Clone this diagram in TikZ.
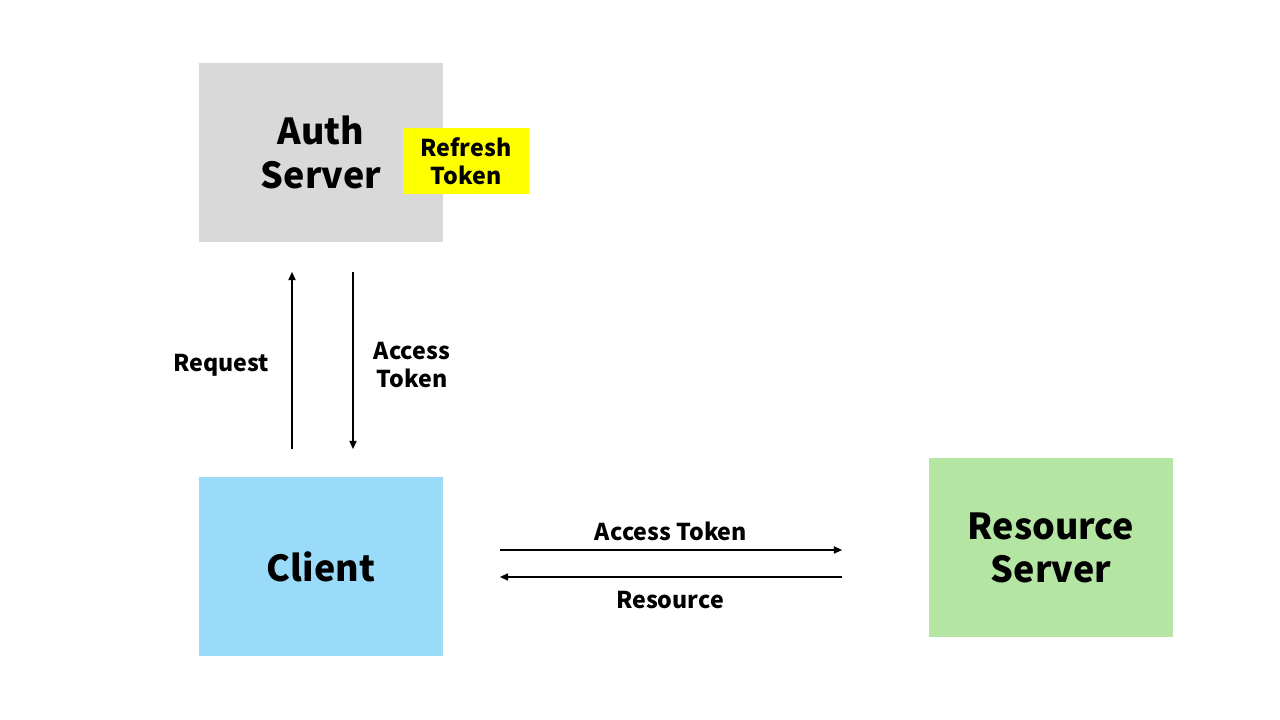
\documentclass[tikz,border=0pt]{standalone}
\usepackage{fontspec}
\setmainfont{Noto Sans CJK KR}
\usetikzlibrary{arrows.meta,positioning,calc}
\definecolor{authfill}{HTML}{D9D9D9}
\definecolor{tokfill}{HTML}{FFFF00}
\definecolor{clientfill}{HTML}{99DBF8}
\definecolor{resfill}{HTML}{B5E5A3}
\definecolor{fg}{HTML}{000000}
\begin{document}
\begin{tikzpicture}[
  font=\bfseries, >={Triangle[length=0.85mm,width=0.7mm]},
  srv/.style={minimum width=24.4mm, minimum height=17.9mm, align=center, text=fg,
    font=\fontsize{10.2}{12.4}\selectfont\bfseries},
  tok/.style={fill=tokfill, minimum width=12.6mm, minimum height=6.6mm, align=center, inner sep=0pt,
    font=\fontsize{6.6}{8}\selectfont\bfseries},
  lbl/.style={align=center, text=fg, font=\fontsize{6.6}{8}\selectfont\bfseries},
  flow/.style={->, line width=0.55pt, draw=fg},
]
\useasboundingbox (0,0) rectangle (12.8,7.2);
% servers and client
\node[srv, fill=authfill] (auth) at (3.21,5.675) {Auth\\Server};
\node[tok] (refresh) at (4.66,5.59) {Refresh\\Token};
\node[srv, fill=clientfill] (client) at (3.21,1.535) {Client};
\node[srv, fill=resfill] (res) at (10.51,1.72) {Resource\\Server};

% --- client <-> auth server ---
\draw[flow, shorten <=2.7mm, shorten >=2.9mm] ([xshift=-2.9mm]client.north) -- ([xshift=-2.9mm]auth.south);
\draw[flow, shorten <=2.9mm, shorten >=2.7mm] ([xshift=3.2mm]auth.south) -- ([xshift=3.2mm]client.north);
\node[lbl] (req) at (2.21,3.55) {Request};
\node[lbl] (atok) at (4.12,3.55) {Access\\Token};

% --- client <-> resource server ---
\coordinate (c1) at ([yshift=1.65mm]client.east);
\coordinate (c2) at ([yshift=-1.05mm]client.east);
\draw[flow, shorten <=5.6mm, shorten >=8.6mm] (c1) -- (c1 -| res.west);
\draw[flow, shorten <=8.6mm, shorten >=5.6mm] (c2 -| res.west) -- (c2);
\node[lbl] (atok2) at (6.71,1.89) {Access Token};
\node[lbl] (resrc) at (6.70,1.20) {Resource};
\end{tikzpicture}
\end{document}
